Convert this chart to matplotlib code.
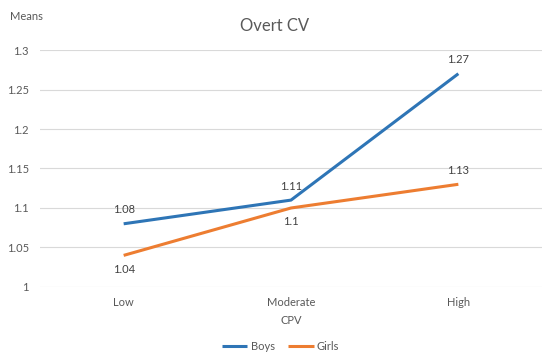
import matplotlib
matplotlib.use('Agg')
import matplotlib.pyplot as plt
import numpy as np

# ---------- Data ----------
categories = ['Low', 'Moderate', 'High']
boys = [1.08, 1.11, 1.27]
girls = [1.04, 1.10, 1.13]
boys_labels = ['1.08', '1.11', '1.27']
girls_labels = ['1.04', '1.1', '1.13']
yticks = [1, 1.05, 1.1, 1.15, 1.2, 1.25, 1.3]
ytick_labels = ['1', '1.05', '1.1', '1.15', '1.2', '1.25', '1.3']

plt.rcParams['font.family'] = ['Lato', 'DejaVu Sans']
text_color = '#595959'
boys_color = '#2E75B6'
girls_color = '#ED7D31'

fig = plt.figure(figsize=(5.5, 3.59), dpi=100)
ax = fig.add_axes([0.0727, 0.2006, 0.9128, 0.6601])

x = np.arange(len(categories))
ax.plot(x, boys, color=boys_color, linewidth=2.2, label='Boys', solid_capstyle='butt', zorder=3)
ax.plot(x, girls, color=girls_color, linewidth=2.2, label='Girls', solid_capstyle='butt', zorder=3)

# data labels: boys above, girls below except the last one
for i in range(len(categories)):
    ax.annotate(boys_labels[i], (x[i], boys[i]), xytext=(0, 6), textcoords='offset points',
                ha='center', va='bottom', fontsize=8, color='#404040')
    if i == 2:
        ax.annotate(girls_labels[i], (x[i], girls[i]), xytext=(0, 6), textcoords='offset points',
                    ha='center', va='bottom', fontsize=8, color='#404040')
    else:
        ax.annotate(girls_labels[i], (x[i], girls[i]), xytext=(0, -6), textcoords='offset points',
                    ha='center', va='top', fontsize=8, color='#404040')

ax.set_xlim(-0.5, 2.5)
ax.set_ylim(1, 1.3)
ax.set_yticks(yticks)
ax.set_yticklabels(ytick_labels)
ax.set_xticks(x)
ax.set_xticklabels(categories)
ax.tick_params(axis='both', length=0, labelsize=8, colors=text_color)
ax.tick_params(axis='x', pad=7)
ax.tick_params(axis='y', pad=8)
ax.yaxis.grid(True, color='#D9D9D9', linewidth=0.8, zorder=0)
for s in ax.spines.values():
    s.set_visible(False)

fig.text(0.5, 0.928, 'Overt CV', ha='center', va='center', fontsize=12, color=text_color)
fig.text(0.018, 0.955, 'Means', ha='left', va='center', fontsize=8, color=text_color)
fig.text(0.53, 0.106, 'CPV', ha='center', va='center', fontsize=8, color=text_color)

ax.legend(loc='center', bbox_to_anchor=(0.51, 0.036), bbox_transform=fig.transFigure,
          ncol=2, frameon=False, fontsize=8, labelcolor=text_color,
          handlelength=2.3, handletextpad=0.3, columnspacing=1.2)

fig.savefig('out.png', dpi=100)
